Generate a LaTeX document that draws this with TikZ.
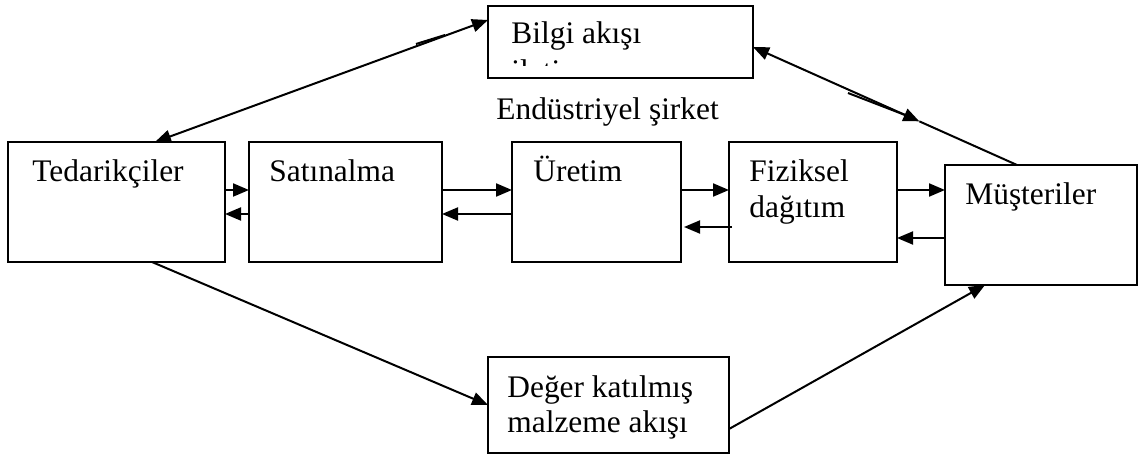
\documentclass[tikz,border=0pt]{standalone}
\usepackage{fontspec}
\setmainfont{Liberation Serif}
\usetikzlibrary{arrows.meta,calc}
\begin{document}
\begin{tikzpicture}[x=0.5pt,y=-0.5pt,
  box/.style={draw,line width=1pt,inner sep=0pt,outer sep=0pt,rectangle},
  lbl/.style={anchor=base west,inner sep=0pt,font=\fontsize{15.7pt}{18pt}\selectfont},
  conn/.style={line width=1pt},
  arr/.style={conn,-{Triangle[length=8pt,width=6.5pt]}},
  darr/.style={conn,{Triangle[length=8pt,width=6.5pt]}-{Triangle[length=8pt,width=6.5pt]}}]
\useasboundingbox (0,0) rectangle (1139,454);
% boxes
\node[box,minimum width=132.5pt,minimum height=36pt] (bilgi) at (620.5,42) {};
\node[box,minimum width=108.5pt,minimum height=60pt] (ted) at (116.5,202) {};
\node[box,minimum width=96.5pt,minimum height=60pt] (sat) at (345.5,202) {};
\node[box,minimum width=84.5pt,minimum height=60pt] (ure) at (596.5,202) {};
\node[box,minimum width=84pt,minimum height=60pt] (fiz) at (813,202) {};
\node[box,minimum width=96pt,minimum height=60pt] (mus) at (1041,225) {};
\node[box,minimum width=120.5pt,minimum height=48pt] (deger) at (608.5,405) {};
% texts
\node[lbl] (tbilgi) at (511,44) {Bilgi akışı};
\begin{scope}
\clip (489,7) rectangle (752,66);
\node[lbl] (tbilgi2) at (511,82) {iletim};
\end{scope}
\node[lbl] (tind) at (496,120) {Endüstriyel şirket};
\node[lbl] (tted) at (32,182) {Tedarikçiler};
\node[lbl] (tsat) at (269,182) {Satınalma};
\node[lbl] (ture) at (533,182) {Üretim};
\node[lbl] (tfiz1) at (749,182) {Fiziksel};
\node[lbl] (tfiz2) at (749,218) {dağıtım};
\node[lbl] (tmus) at (965,205) {Müşteriler};
\node[lbl] (tdeg1) at (507,397) {Değer katılmış};
\node[lbl] (tdeg2) at (507,432) {malzeme akışı};
% helper rows
\coordinate (r190) at (0,190);
\coordinate (r214) at (0,214);
\coordinate (r227) at (0,227);
\coordinate (r238) at (0,238);
% horizontal arrows
\draw[arr] (ted.east |- r190) -- (sat.west |- r190);
\draw[arr] (sat.west |- r214) -- (ted.east |- r214);
\draw[arr] (sat.east |- r190) -- (ure.west |- r190);
\draw[arr] (ure.west |- r214) -- (sat.east |- r214);
\draw[arr] (ure.east |- r190) -- (fiz.west |- r190);
\draw[arr] ($(fiz.west |- r227)+(3,0)$) -- ($(ure.east |- r227)+(3,0)$);
\draw[arr] (fiz.east |- r190) -- (mus.west |- r190);
\draw[arr] (mus.west |- r238) -- (fiz.east |- r238);
% information flow
\coordinate (bl) at ([yshift=-7pt]bilgi.north west);
\coordinate (tt) at ([xshift=73.5pt]ted.north west);
\draw[darr] (bl) -- (tt);
\coordinate (s1a) at (416,44);
\coordinate (s1b) at (445,35);
\draw[conn] (s1a) -- (s1b);
\coordinate (br) at ([yshift=-20.5pt]bilgi.north east);
\coordinate (mt) at ([xshift=36pt]mus.north west);
\coordinate (mid) at ($(br)!0.63!(mt)$);
\draw[darr] (br) -- (mid);
\draw[conn] (mid) -- (mt);
\coordinate (s2a) at (848,93);
\coordinate (s2b) at (905,115);
\draw[conn] (s2a) -- (s2b);
% material flow
\coordinate (tb) at ([xshift=72pt]ted.south west);
\draw[arr] (tb) -- (deger.west);
\coordinate (dr) at ([yshift=-12pt]deger.east);
\coordinate (mb) at ([xshift=20pt]mus.south west);
\draw[arr] (dr) -- (mb);
\end{tikzpicture}
\end{document}
